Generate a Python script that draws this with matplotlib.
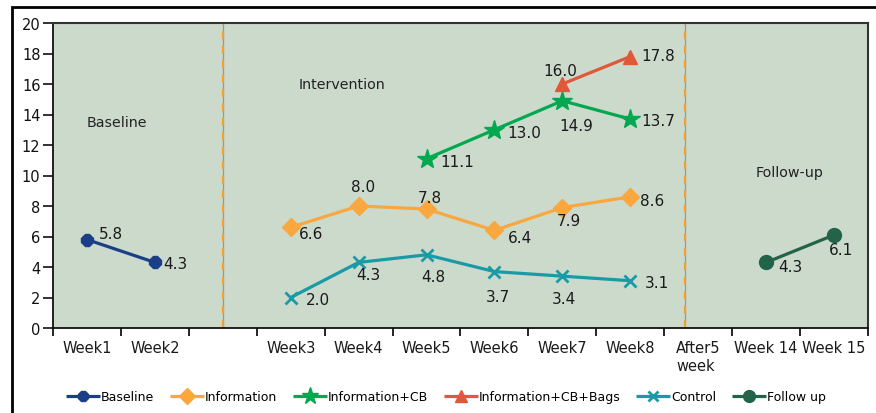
import matplotlib
matplotlib.use("Agg")
import matplotlib.pyplot as plt
from matplotlib.patches import Rectangle

# ---------------- data ----------------
categories = ["Week1", "Week2", "", "Week3", "Week4", "Week5", "Week6",
              "Week7", "Week8", "After5\nweek", "Week 14", "Week 15"]

baseline_weeks = ["Week1", "Week2"]
baseline = [5.8, 4.3]

information_weeks = ["Week3", "Week4", "Week5", "Week6", "Week7", "Week8"]
information = [6.6, 8.0, 7.8, 6.4, 7.9, 8.6]

info_cb_weeks = ["Week5", "Week6", "Week7", "Week8"]
info_cb = [11.1, 13.0, 14.9, 13.7]

info_cb_bags_weeks = ["Week7", "Week8"]
info_cb_bags = [16.0, 17.8]

control_weeks = ["Week3", "Week4", "Week5", "Week6", "Week7", "Week8"]
control = [2.0, 4.3, 4.8, 3.7, 3.4, 3.1]

follow_up_weeks = ["Week 14", "Week 15"]
follow_up = [4.3, 6.1]

y_ticks = [0, 2, 4, 6, 8, 10, 12, 14, 16, 18, 20]

# ---------------- styles / label placement (px: dx, dy-up, ha) ----------------
series = [
    ("Baseline", baseline_weeks, baseline, "#1B3F87", "8", 9, 1.0,
     [(12, 6, "left"), (8, -1, "left")]),
    ("Information", information_weeks, information, "#F9A73E", "D", 9, 1.0,
     [(8, -6, "left"), (4, 19, "center"), (3, 12, "center"),
      (13, -7, "left"), (6, -13, "center"), (10, -4, "left")]),
    ("Information+CB", info_cb_weeks, info_cb, "#00A94F", "*", 15, 1.0,
     [(14, -3, "left"), (13, -3, "left"), (14, -25, "center"), (11, -1, "left")]),
    ("Information+CB+Bags", info_cb_bags_weeks, info_cb_bags, "#E0583A", "^", 10, 1.0,
     [(-2, 13, "center"), (11, 1, "left")]),
    ("Control", control_weeks, control, "#1A9AA6", "x", 9, 2.0,
     [(15, -2, "left"), (10, -12, "center"), (7, -22, "center"),
      (3, -25, "center"), (2, -22, "center"), (15, -2, "left")]),
    ("Follow up", follow_up_weeks, follow_up, "#22634A", "o", 10, 1.0,
     [(12, -4, "left"), (7, -15, "center")]),
]

PX = 72.0 / 100.0  # px -> points

fig = plt.figure(figsize=(8.76, 4.14), dpi=100)
fig.patch.set_facecolor("white")
ax = fig.add_axes([53 / 876, 1 - 329 / 414, (868 - 53) / 876, (329 - 24) / 414])
ax.set_facecolor("#CCDACC")

# outer frame
fig.patches.append(Rectangle((12 / 876, -0.05), 1.2, 1 - 8 / 414 + 0.05,
                             transform=fig.transFigure, fill=False,
                             edgecolor="black", linewidth=2.0, zorder=0))

idx = {c: i for i, c in enumerate(categories)}

# phase separators
for xs in [2.0, 8.8]:
    ax.axvline(xs, color="#8C9C9C", lw=0.9, zorder=1)
    ax.axvline(xs, color="#F5A02E", lw=1.6, dashes=(3.5, 3), zorder=1.5)

for name, weeks, vals, col, mk, ms, mew, offs in series:
    xs = [idx[w] for w in weeks]
    ax.plot(xs, vals, color=col, lw=2.3, marker=mk, ms=ms, mew=mew,
            mec=col, mfc=col, label=name, zorder=3, solid_capstyle="butt")
    for x, v, (dx, dy, ha) in zip(xs, vals, offs):
        ax.annotate(f"{v:.1f}", (x, v), xytext=(dx * PX, dy * PX),
                    textcoords="offset points", ha=ha, va="center",
                    fontsize=11, color="#1a1a1a", zorder=4)

# phase labels
ax.text(0.44, 13.5, "Baseline", ha="center", va="center", fontsize=10.3, color="#222222")
ax.text(3.76, 16.0, "Intervention", ha="center", va="center", fontsize=10.3, color="#222222")
ax.text(10.35, 10.2, "Follow-up", ha="center", va="center", fontsize=10.3, color="#222222")

# axes
ax.set_xlim(-0.5, len(categories) - 0.5)
ax.set_ylim(0, 20)
ax.set_yticks(y_ticks)
ax.tick_params(axis="y", direction="out", length=7, width=1.2, pad=2,
               labelsize=10.5, colors="#111111")
ax.set_xticks([i - 0.5 for i in range(len(categories) + 1)])
ax.set_xticklabels([])
ax.set_xticks(range(len(categories)), minor=True)
ax.set_xticklabels(categories, minor=True, fontsize=10.5, color="#1a1a1a",
                   multialignment="left", va="top")
ax.tick_params(axis="x", which="major", direction="out", length=6, width=1.2)
ax.tick_params(axis="x", which="minor", length=0, pad=9)

for s in ["left", "bottom"]:
    ax.spines[s].set_color("#111111")
    ax.spines[s].set_linewidth(1.3)
for s in ["top", "right"]:
    ax.spines[s].set_color("#333333")
    ax.spines[s].set_linewidth(1.5)

leg = fig.legend(loc="center", bbox_to_anchor=(0.509, 0.039), ncol=6,
                 frameon=False, fontsize=9, handlelength=2.7,
                 handletextpad=0.05, columnspacing=1.3, borderaxespad=0)
for h in leg.legend_handles:
    h.set_markersize(h.get_markersize() * 0.85)

fig.savefig("out.png", dpi=100)
